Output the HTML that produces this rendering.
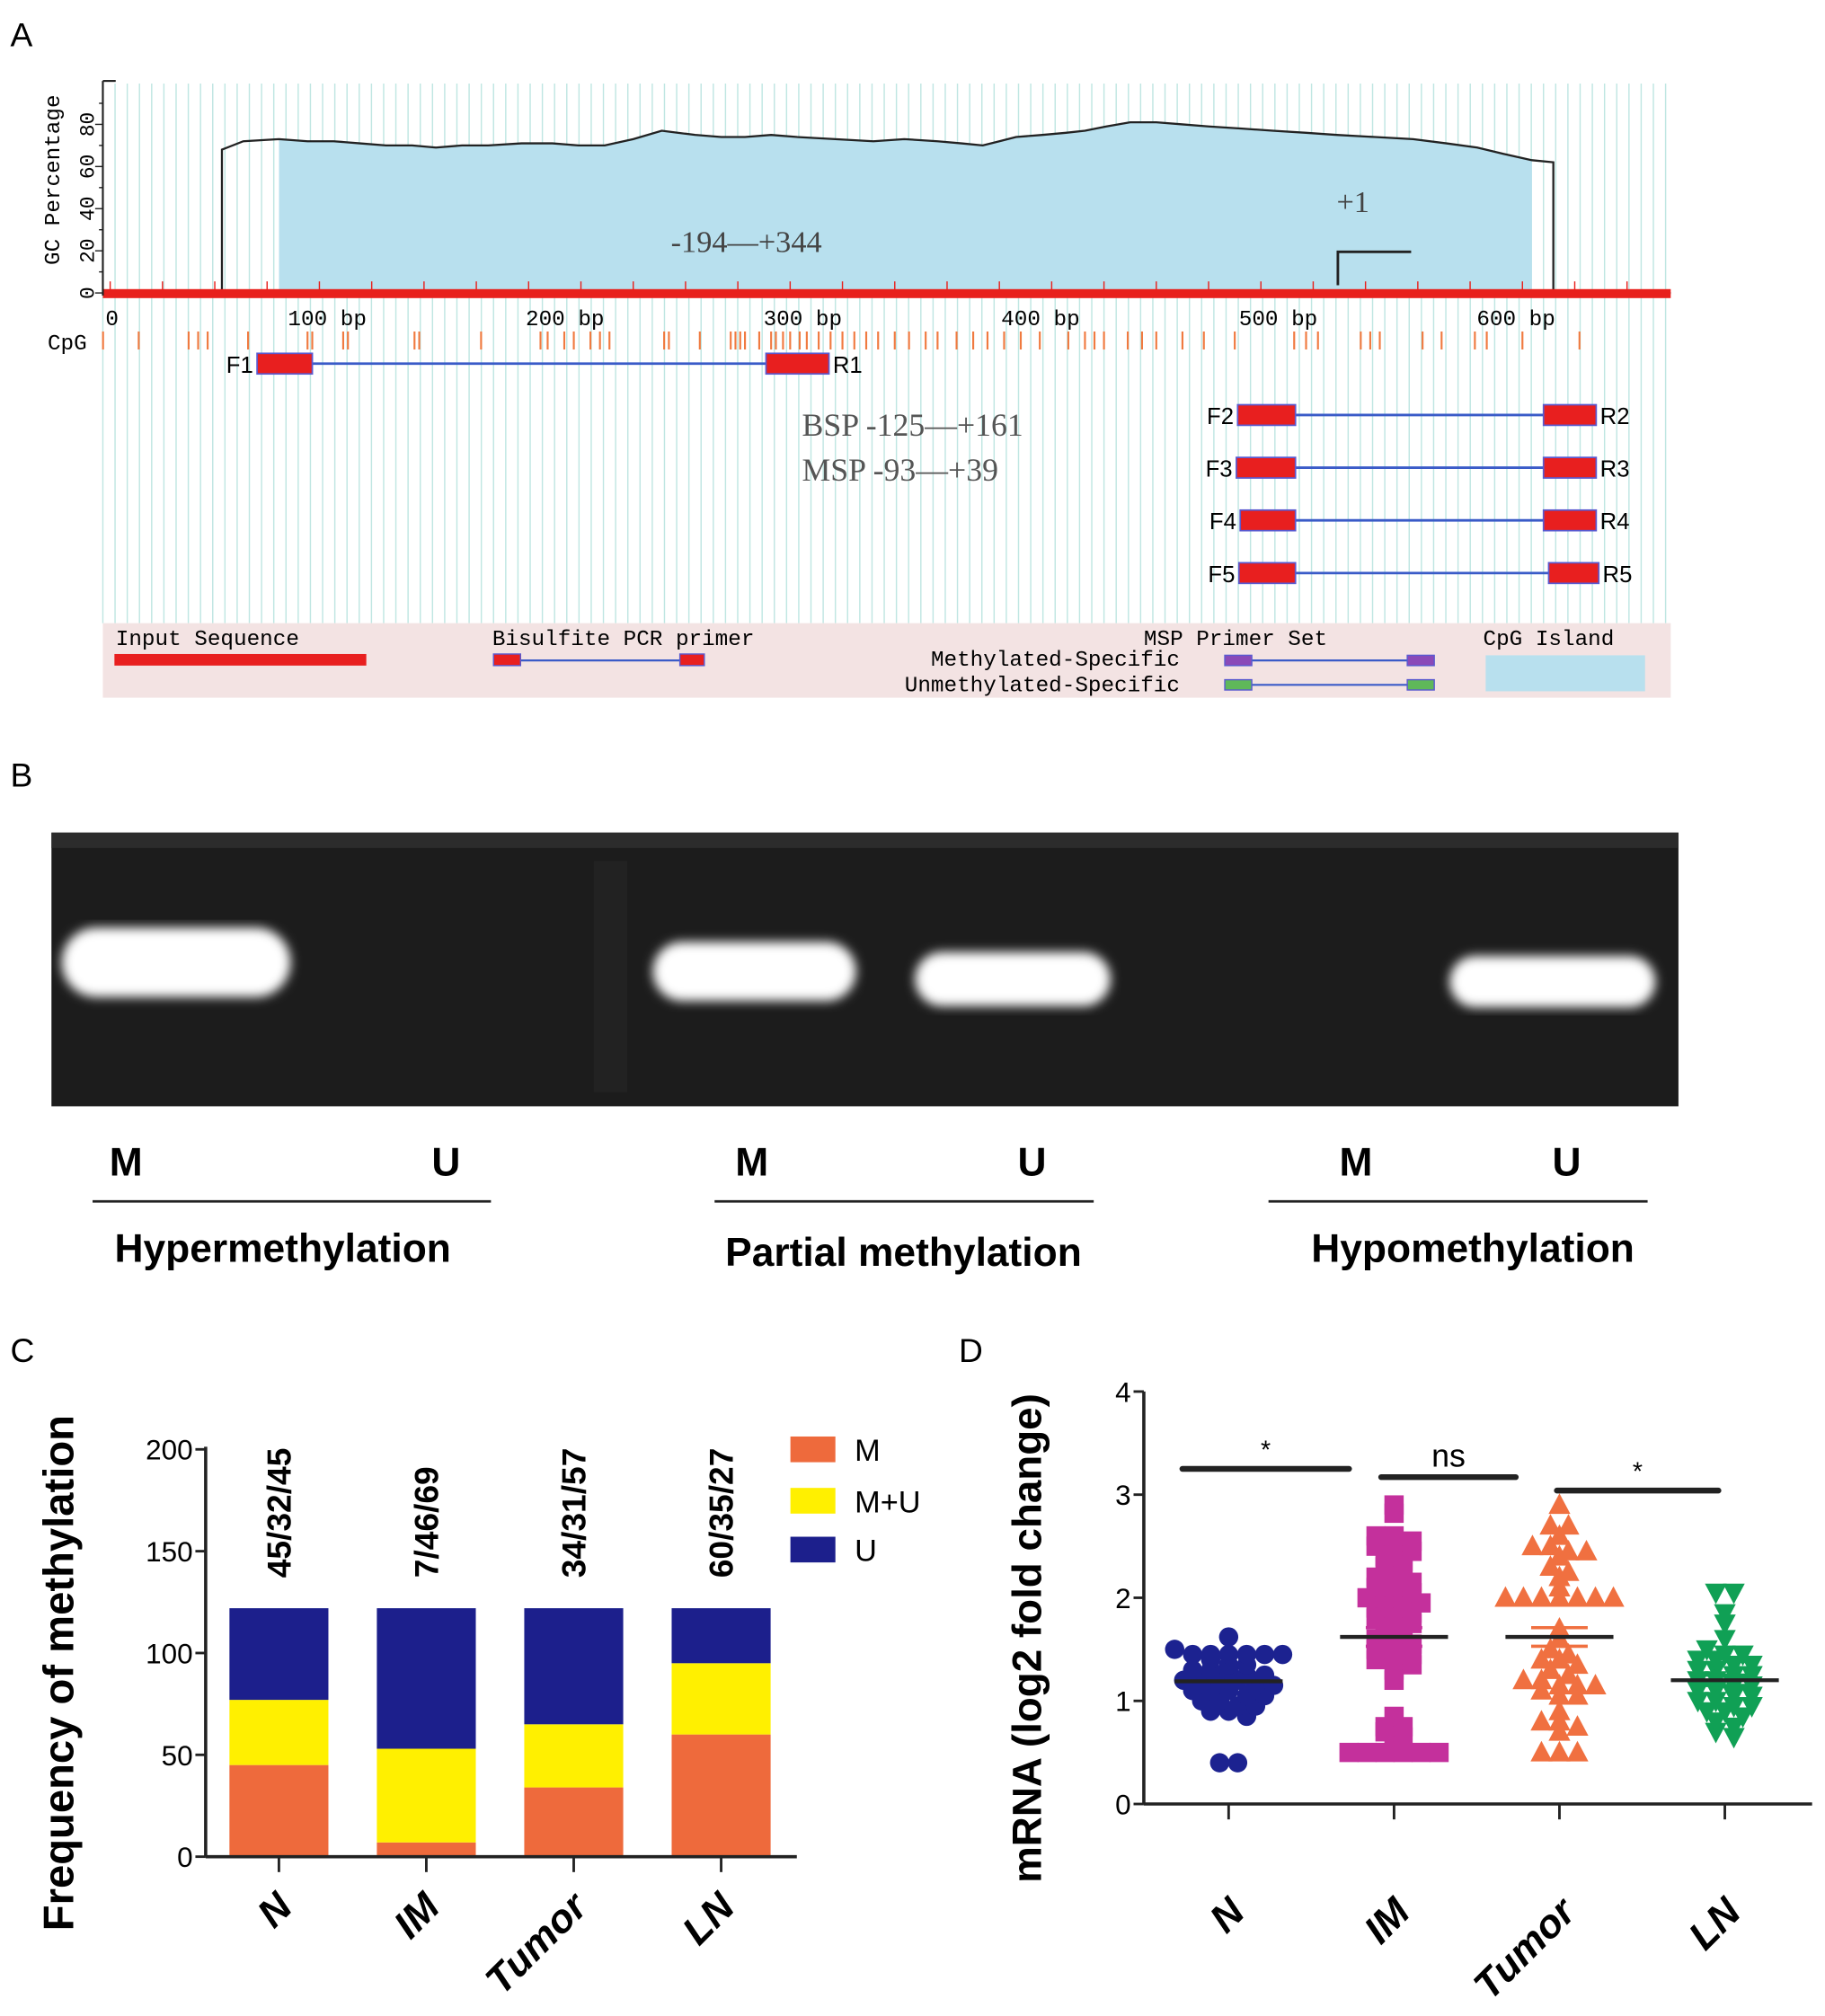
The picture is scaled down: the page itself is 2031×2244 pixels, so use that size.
<!DOCTYPE html>
<html><head><meta charset="utf-8"><style>
html,body{margin:0;padding:0;background:#fff;}
svg{display:block;}
text{font-family:"Liberation Sans",sans-serif;}
text.mono{font-family:"Liberation Mono",monospace;}
text.serif{font-family:"Liberation Serif",serif;}
</style></head><body>
<svg id="fig" width="2031" height="2244" viewBox="0 0 1420 1569" xmlns="http://www.w3.org/2000/svg">
<defs>
<filter id="blur"><feGaussianBlur stdDeviation="4"/></filter>
</defs>

<text x="8" y="36" font-size="26">A</text>
<g id="panelA"></g>

<text x="8" y="612" font-size="26">B</text>
<g>
<rect x="40" y="648" width="1266" height="213" fill="#1c1c1c"/>
<rect x="40" y="648" width="1266" height="12" fill="#2c2c2c"/>
<rect x="462" y="670" width="26" height="180" fill="#222"/>
<g filter="url(#blur)">
<rect x="48" y="722" width="178" height="54" rx="27" fill="#fff"/>
<rect x="508" y="733" width="158" height="46" rx="23" fill="#fff"/>
<rect x="712" y="741" width="152" height="42" rx="21" fill="#fff"/>
<rect x="1128" y="744" width="160" height="40" rx="20" fill="#fff"/>
</g>
<g font-size="31" font-weight="bold" text-anchor="middle">
<text x="98" y="915">M</text>
<text x="347" y="915">U</text>
<text x="585" y="915">M</text>
<text x="803" y="915">U</text>
<text x="1055" y="915">M</text>
<text x="1219" y="915">U</text>
</g>
<g stroke="#222" stroke-width="2">
<line x1="72" y1="935" x2="382" y2="935"/><line x1="556" y1="935" x2="851" y2="935"/><line x1="987" y1="935" x2="1282" y2="935"/>
</g>
<g font-size="31" font-weight="bold" text-anchor="middle">
<text x="220" y="982">Hypermethylation</text>
<text x="703" y="985">Partial methylation</text>
<text x="1146" y="982">Hypomethylation</text>
</g>
</g>

<text x="8" y="1060" font-size="26">C</text>
<g id="panelC"></g>

<text x="746" y="1060" font-size="26">D</text>
<g id="panelD"></g>
</svg>

<script>
const NS="http://www.w3.org/2000/svg";
function mk(tag,attrs,parent,txt){const e=document.createElementNS(NS,tag);for(const k in attrs)e.setAttribute(k,attrs[k]);if(txt!==undefined)e.textContent=txt;parent.appendChild(e);return e;}

/* ---------- Panel A data ---------- */
const gcPositions=[69,78,93,105,116,127,138,149,159,170,181,195,208,219,230,242,254,261,268,279,289,300,311,327,343,356,370,380,389,396,403,414,424,432,441,451,462,473,484,498,511,525,538,554,570,584,597,608,620,629];
const gcValues=[68,72,73,72,72,71,70,70,69,70,70,71,71,70,70,73,77,76,75,74,74,75,74,73,72,73,72,71,70,72,74,75,76,77,79,81,81,80,79,78,77,76,75,74,73,71,69,66,63,62];
const cpgSites=[19,34,55,59,63,80,105,107,120,122,150,152,178,203,206,213,217,224,228,232,255,257,270,283,285,287,289,295,300,302,305,308,312,315,320,325,330,335,340,345,352,358,365,370,378,385,391,398,405,413,425,432,436,440,450,456,462,473,482,495,520,525,530,548,552,556,574,582,596,601,616,640];
const gcTicks=[0,20,40,60,80];
const bpTicks=[100,200,300,400,500,600];
const pA=document.getElementById('panelA');
const ax0=45, bpPx=1.85, gy0=228, gcPx=1.64;
const bx=bp=>ax0+bp*bpPx, gy=v=>gy0-v*gcPx;
for(let x=80;x<=1300;x+=9.5){mk('line',{x1:x,y1:65,x2:x,y2:485,stroke:'#bfe6e2','stroke-width':1},pA);}
mk('rect',{x:80,y:485,width:1220,height:58,fill:'#f3e3e3'},pA);
const islandStart=93, islandEnd=620;
let d='M'+bx(islandStart)+','+gy0;
gcPositions.forEach((p,i)=>{if(p>=islandStart&&p<=islandEnd)d+=' L'+bx(p)+','+gy(gcValues[i]);});
d+=' L'+bx(islandEnd)+','+gy0+' Z';
let f=mk('path',{d:d,fill:'#b8e0ee'},pA);


let ld='M80,'+gy0+' L'+bx(gcPositions[0])+','+gy0;
gcPositions.forEach((p,i)=>{ld+=' L'+bx(p)+','+gy(gcValues[i]);});
ld+=' L'+bx(gcPositions[gcPositions.length-1])+','+gy0+' L1300,'+gy0;
let gl=mk('path',{d:ld,fill:'none',stroke:'#222','stroke-width':1.6},pA);


mk('rect',{x:80,y:225,width:1220,height:7,fill:'#e8201c'},pA);
for(let bp=22;bp<=680;bp+=22){if(bx(bp)<1300)mk('line',{x1:bx(bp),y1:219,x2:bx(bp),y2:226,stroke:'#e8201c','stroke-width':1},pA);}
mk('line',{x1:80,y1:63,x2:80,y2:230,stroke:'#222','stroke-width':1.5},pA);
mk('line',{x1:80,y1:63,x2:90,y2:63,stroke:'#222','stroke-width':1.5},pA);
gcTicks.forEach(v=>{
 mk('line',{x1:74,y1:gy(v),x2:80,y2:gy(v),stroke:'#222'},pA);
 const t=mk('text',{x:0,y:0,'font-size':16,class:'mono',transform:`translate(73,${gy(v)}) rotate(-90)`,'text-anchor':'middle'},pA,String(v));
 
});
for(let v=10;v<=90;v+=20)mk('line',{x1:77,y1:gy(v),x2:80,y2:gy(v),stroke:'#222'},pA);
let yt=mk('text',{x:0,y:0,'font-size':17,class:'mono',transform:'translate(46,140) rotate(-90)','text-anchor':'middle'},pA,'GC Percentage');

mk('text',{x:82,y:253,'font-size':17,class:'mono'},pA,'0');
bpTicks.forEach(v=>{
 const t=mk('text',{x:bx(v)-6,y:253,'font-size':17,class:'mono'},pA,v+' bp');
 
});
mk('text',{x:37,y:272,'font-size':17,class:'mono'},pA,'CpG');
cpgSites.forEach(s=>{mk('line',{x1:bx(s),y1:258,x2:bx(s),y2:272,stroke:'#f07a40','stroke-width':1.5},pA);});
mk('text',{x:522,y:196,'font-size':24,class:'serif',fill:'#444'},pA,'-194\u2014+344');
mk('text',{x:1040,y:165,'font-size':24,class:'serif',fill:'#444'},pA,'+1');
mk('path',{d:'M1041,222 V196 H1098',fill:'none',stroke:'#222','stroke-width':2},pA);
mk('text',{x:624,y:339,'font-size':25,class:'serif',fill:'#555'},pA,'BSP  -125\u2014+161');
mk('text',{x:624,y:374,'font-size':25,class:'serif',fill:'#555'},pA,'MSP -93\u2014+39');
function primer(name,y,f1,f2,r1,r2,lf,lr){
 const g=mk('g',{},pA);
 
 
 mk('line',{x1:f2,y1:y,x2:r1,y2:y,stroke:'#3a5bc8','stroke-width':2},g);
 mk('rect',{x:f1,y:y-8,width:f2-f1,height:16,fill:'#e81f1f',stroke:'#5a5ad0','stroke-width':1.2},g);
 mk('rect',{x:r1,y:y-8,width:r2-r1,height:16,fill:'#e81f1f',stroke:'#5a5ad0','stroke-width':1.2},g);
 mk('text',{x:f1-3,y:y+7,'font-size':18,'text-anchor':'end'},g,lf);
 mk('text',{x:r2+3,y:y+7,'font-size':18},g,lr);
}
primer('1',283,200,243,596,645,'F1','R1');
primer('2',323,963,1008,1201,1242,'F2','R2');
primer('3',364,962,1008,1201,1242,'F3','R3');
primer('4',405,965,1008,1201,1242,'F4','R4');
primer('5',446,964,1008,1205,1244,'F5','R5');
const lg=mk('g',{},pA);

const lt=(x,y,s,a)=>mk('text',{x:x,y:y,'font-size':17,class:'mono','text-anchor':a||'start'},lg,s);
lt(90,502,'Input Sequence');
mk('rect',{x:89,y:509,width:196,height:9,fill:'#e81f1f'},lg);
lt(383,502,'Bisulfite PCR primer');
mk('line',{x1:400,y1:514,x2:532,y2:514,stroke:'#3a5bc8','stroke-width':1.5},lg);
mk('rect',{x:384,y:509,width:21,height:9,fill:'#e81f1f',stroke:'#5a5ad0'},lg);
mk('rect',{x:529,y:509,width:19,height:9,fill:'#e81f1f',stroke:'#5a5ad0'},lg);
lt(890,502,'MSP Primer Set');
lt(918,518,'Methylated-Specific','end');
lt(918,538,'Unmethylated-Specific','end');
mk('line',{x1:962,y1:514,x2:1104,y2:514,stroke:'#3a5bc8','stroke-width':1.5},lg);
mk('rect',{x:953,y:510,width:21,height:8,fill:'#8a4ab8',stroke:'#5a5ad0'},lg);
mk('rect',{x:1095,y:510,width:21,height:8,fill:'#8a4ab8',stroke:'#5a5ad0'},lg);
mk('line',{x1:962,y1:533,x2:1104,y2:533,stroke:'#3a5bc8','stroke-width':1.5},lg);
mk('rect',{x:953,y:529,width:21,height:8,fill:'#5fb85a',stroke:'#5a5ad0'},lg);
mk('rect',{x:1095,y:529,width:21,height:8,fill:'#5fb85a',stroke:'#5a5ad0'},lg);
lt(1154,502,'CpG Island');
mk('rect',{x:1156,y:510,width:124,height:28,fill:'#b8e0ee'},lg);

/* ---------- Panel C data ---------- */
const cCategories=['N','IM','Tumor','LN'];
const cM=[45,7,34,60];
const cMU=[32,46,31,35];
const cU=[45,69,57,27];
const cYTicks=[0,50,100,150,200];
const pC=document.getElementById('panelC');
const cx0=160, cy0=1445, cPx=317/200;
const cy=v=>cy0-v*cPx;
const cbx=i=>217+i*114.7;
const cColors={M:'#ee6a3c',MU:'#fff000',U:'#1c1f8c'};
cCategories.forEach((c,i)=>{
 const x=cbx(i)-38.5; let base=0;
 [['M',cM[i]],['MU',cMU[i]],['U',cU[i]]].forEach(([k,v])=>{
  const r=mk('rect',{x:x,y:cy(base+v),width:77,height:v*cPx,fill:cColors[k]},pC);
  
  
  base+=v;
 });
 const lab=mk('text',{x:0,y:0,'font-size':26,'font-weight':'bold',transform:`translate(${cbx(i)+9},1228) rotate(-90)`},pC,cM[i]+'/'+cMU[i]+'/'+cU[i]);
 
 
 mk('line',{x1:cbx(i),y1:cy0,x2:cbx(i),y2:cy0+12,stroke:'#222','stroke-width':2},pC);
 const xl=mk('text',{x:0,y:0,'font-size':31,'font-weight':'bold','font-style':'italic','text-anchor':'end',transform:`translate(${cbx(i)+12},1486) rotate(-45)`},pC,c);
 
 
});
mk('line',{x1:cx0,y1:1126,x2:cx0,y2:cy0,stroke:'#222','stroke-width':2.5},pC);
mk('line',{x1:cx0,y1:cy0,x2:620,y2:cy0,stroke:'#222','stroke-width':2.5},pC);
cYTicks.forEach(v=>{
 mk('line',{x1:cx0-8,y1:cy(v),x2:cx0,y2:cy(v),stroke:'#222','stroke-width':2},pC);
 const t=mk('text',{x:cx0-10,y:cy(v)+8,'font-size':22,'text-anchor':'end'},pC,String(v));
 
});
const cyt=mk('text',{x:0,y:0,'font-size':33,'font-weight':'bold','text-anchor':'middle',transform:'translate(57,1302) rotate(-90)'},pC,'Frequency of methylation');

[['M','M',1128],['MU','M+U',1168],['U','U',1206]].forEach(([k,l,y])=>{
 const g=mk('g',{},pC);
 
 
 mk('rect',{x:615,y:y-10,width:35,height:20,fill:cColors[k]},g);
 mk('text',{x:665,y:y+9,'font-size':24},g,l);
});

/* ---------- Panel D data ---------- */
const dCategories=['N','IM','Tumor','LN'];
const dN=[1.62,1.5,1.45,1.45,1.45,1.45,1.45,1.45,1.4,1.35,1.35,1.3,1.3,1.3,1.25,1.25,1.2,1.2,1.2,1.2,1.15,1.15,1.1,1.1,1.1,1.05,1.05,1.0,1.0,0.95,0.95,0.9,0.9,0.85,0.4,0.4];
const dIM=[2.9,2.82,2.6,2.6,2.55,2.5,2.5,2.45,2.4,2.35,2.3,2.3,2.2,2.2,2.15,2.1,2.1,2.05,2.0,2.0,1.95,1.95,1.9,1.9,1.85,1.8,1.8,1.75,1.7,1.65,1.6,1.55,1.55,1.5,1.45,1.45,1.4,1.4,1.35,1.3,1.2,0.85,0.75,0.75,0.7,0.65,0.6,0.5,0.5,0.5,0.5,0.5,0.5];
const dTumor=[2.9,2.7,2.7,2.6,2.5,2.5,2.45,2.45,2.4,2.3,2.25,2.2,2.1,2.0,2.0,2.0,2.0,2.0,2.0,2.0,1.7,1.6,1.5,1.45,1.4,1.4,1.35,1.3,1.25,1.2,1.2,1.15,1.15,1.15,1.1,1.05,1.05,0.9,0.8,0.8,0.75,0.7,0.5,0.5,0.5];
const dLN=[2.05,2.05,1.85,1.75,1.6,1.5,1.45,1.45,1.4,1.4,1.35,1.35,1.3,1.3,1.25,1.25,1.2,1.2,1.15,1.15,1.1,1.1,1.05,1.05,1.0,1.0,0.95,0.95,0.9,0.9,0.85,0.8,0.75,0.7,0.65];
const dMeans=[1.19,1.62,1.62,1.2];
const dSEM=[0.05,0.09,0.09,0.05];
const dYTicks=[0,1,2,3,4];
const dSigA=[0,1,2];
const dSigB=[1,2,3];
const dSigY=[3.25,3.17,3.04];
const dSigLabels=['*','ns','*'];
const sigStartOff=[-36,-10,-2], sigEndOff=[-35,-34,-5];
const pD=document.getElementById('panelD');
const dx0=890, dy0=1404, dPx=80.25;
const dy=v=>dy0-v*dPx;
const dgx=i=>956+i*128.7;
const series=[dN,dIM,dTumor,dLN];
const dColors=['#1c2290','#c4309c','#f07040','#10a055'];
const shapes=['circle','square','tri','dtri'];
function marker(shape,x,y,col,g){
 if(shape==='circle')return mk('circle',{cx:x,cy:y,r:7.5,fill:col},g);
 if(shape==='square')return mk('rect',{x:x-7.5,y:y-7.5,width:15,height:15,fill:col},g);
 if(shape==='tri')return mk('polygon',{points:`${x},${y-9} ${x+8.5},${y+7} ${x-8.5},${y+7}`,fill:col},g);
 return mk('polygon',{points:`${x},${y+9} ${x+8.5},${y-7} ${x-8.5},${y-7}`,fill:col},g);
}
series.forEach((vals,i)=>{
 const g=mk('g',{},pD);
 
 
 const bins={};
 vals.forEach(v=>{const k=Math.round(v*10);(bins[k]=bins[k]||[]).push(v);});
 Object.keys(bins).forEach(k=>{
  const arr=bins[k], n=arr.length;
  arr.forEach((v,j)=>{
   const off=(j-(n-1)/2)*14;
   const m=marker(shapes[i],dgx(i)+off,dy(v),dColors[i],g);
   
   
  });
 });
 const ml=mk('line',{x1:dgx(i)-42,y1:dy(dMeans[i]),x2:dgx(i)+42,y2:dy(dMeans[i]),stroke:'#222','stroke-width':3},pD);
 
 
 [dMeans[i]-dSEM[i],dMeans[i]+dSEM[i]].forEach(v=>mk('line',{x1:dgx(i)-22,y1:dy(v),x2:dgx(i)+22,y2:dy(v),stroke:dColors[i],'stroke-width':2.5},pD));
 mk('line',{x1:dgx(i),y1:dy0,x2:dgx(i),y2:dy0+12,stroke:'#222','stroke-width':2},pD);
 const xl=mk('text',{x:0,y:0,'font-size':31,'font-weight':'bold','font-style':'italic','text-anchor':'end',transform:`translate(${dgx(i)+14},1490) rotate(-45)`},pD,dCategories[i]);
 
 
});
dSigA.forEach((a,k)=>{
 const b=dSigB[k];
 const x1=dgx(a)+sigStartOff[k], x2=dgx(b)+sigEndOff[k];
 const l=mk('line',{x1:x1,y1:dy(dSigY[k]),x2:x2,y2:dy(dSigY[k]),stroke:'#222','stroke-width':4.5,'stroke-linecap':'round'},pD);
 
 
 const t=mk('text',{x:(x1+x2)/2,y:dy(dSigY[k])-8,'font-size':dSigLabels[k]==='ns'?25:20,'text-anchor':'middle'},pD,dSigLabels[k]);
 
});
mk('line',{x1:dx0,y1:1083,x2:dx0,y2:dy0,stroke:'#222','stroke-width':2.5},pD);
mk('line',{x1:dx0,y1:dy0,x2:1410,y2:dy0,stroke:'#222','stroke-width':2.5},pD);
dYTicks.forEach(v=>{
 mk('line',{x1:dx0-8,y1:dy(v),x2:dx0,y2:dy(v),stroke:'#222','stroke-width':2},pD);
 const t=mk('text',{x:dx0-10,y:dy(v)+8,'font-size':22,'text-anchor':'end'},pD,String(v));
 
});
const dyt=mk('text',{x:0,y:0,'font-size':32,'font-weight':'bold','text-anchor':'middle',transform:'translate(810,1275) rotate(-90)'},pD,'mRNA (log2 fold change)');

</script>
</body></html>
